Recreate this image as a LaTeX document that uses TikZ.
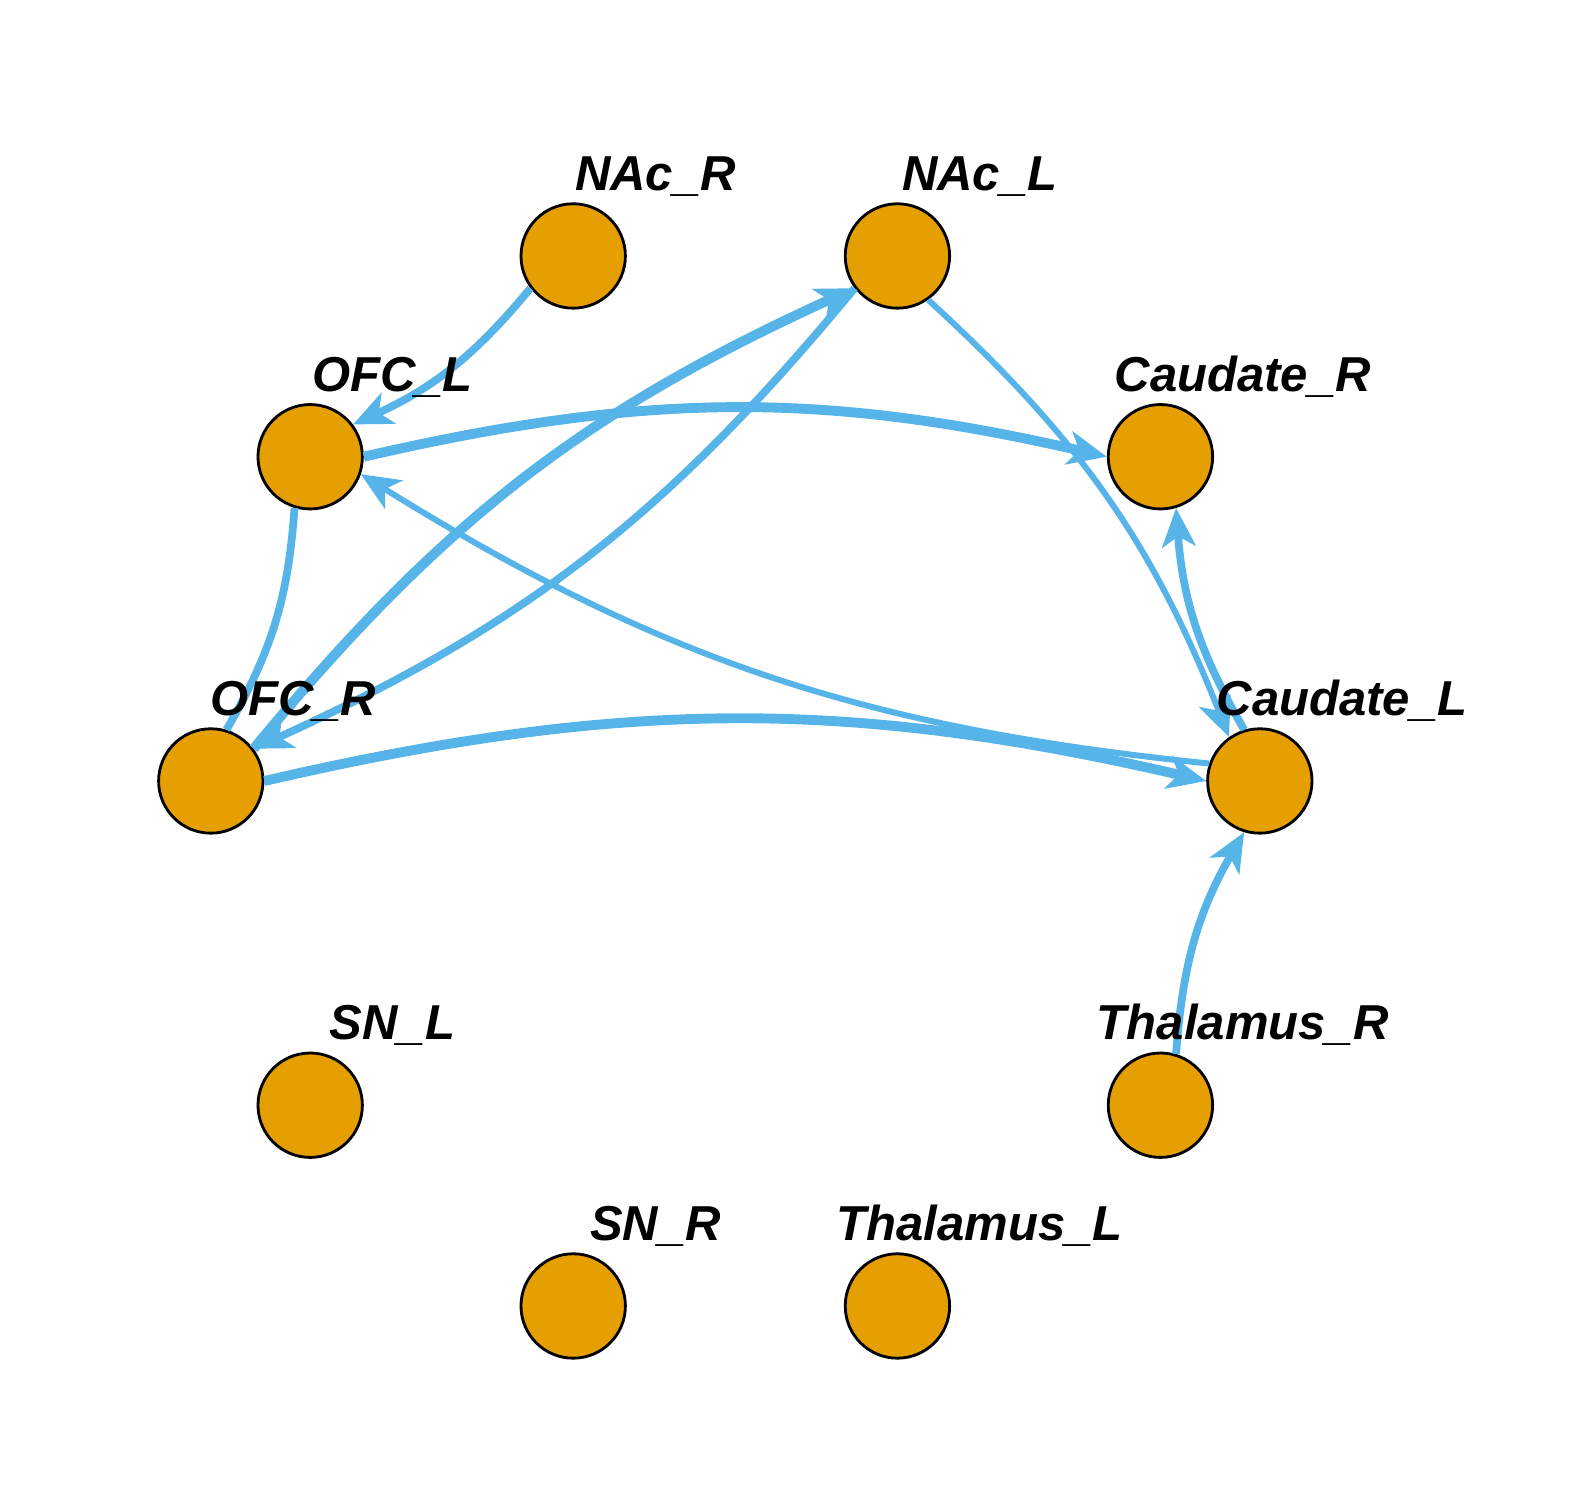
\documentclass[tikz,border=0pt]{standalone}
\usepackage{fontspec}
\setmainfont{Liberation Sans}
\usepackage{tikz}
\usetikzlibrary{arrows.meta}
\definecolor{roiorange}{HTML}{E69F00}
\definecolor{linkblue}{HTML}{56B4E9}

\begin{document}
\begin{tikzpicture}[
  >={Stealth[length=11pt,width=9.5pt,inset=3pt]},
  roi/.style={shape=circle, draw=black, line width=0.8pt, fill=roiorange, minimum size=1.04cm, inner sep=0pt},
  roiname/.style={anchor=base, inner sep=0pt, font=\fontsize{13.9}{16}\selectfont\bfseries\itshape},
  strongedge/.style={color=linkblue, line width=2.8pt},
  midedge/.style={color=linkblue, line width=2.2pt},
  weakedge/.style={color=linkblue, line width=1.7pt}
]
\useasboundingbox (0,0) rectangle (15.68,-14.79);
\node[roi] (NAcR) at (5.71,-2.55) {};
\node[roi] (NAcL) at (8.94,-2.55) {};
\node[roi] (OFCL) at (3.09,-4.55) {};
\node[roi] (CaudateR) at (11.56,-4.55) {};
\node[roi] (OFCR) at (2.10,-7.78) {};
\node[roi] (CaudateL) at (12.55,-7.78) {};
\node[roi] (SNL) at (3.09,-11.01) {};
\node[roi] (ThalamusR) at (11.56,-11.01) {};
\node[roi] (SNR) at (5.71,-13.01) {};
\node[roi] (ThalamusL) at (8.94,-13.01) {};
% links leave each circle on the line between the centres
\draw [midedge] (NAcR.217) edge[->, bend left=13] (OFCL.37);
\draw [strongedge] (OFCR.37) edge[->, bend left=13] (NAcL.217);
\draw [midedge] (NAcL.217) edge[->, bend left=13] (OFCR.37);
\draw [strongedge] (OFCL.0) edge[->, bend left=13] (CaudateR.180);
\draw [weakedge] (CaudateL.161) edge[->, bend left=13] (OFCL.-19);
\draw [weakedge] (NAcL.-55) edge[->, bend left=13] (CaudateL.125);
\draw [strongedge] (OFCR.0) edge[->, bend left=13] (CaudateL.180);
\draw [midedge] (CaudateL.107) edge[->, bend left=13] (CaudateR.-73);
\draw [midedge] (ThalamusR.73) edge[->, bend left=13] (CaudateL.-107);
\draw [midedge] (OFCL.253) edge[bend left=13] (OFCR.73);
\node[roiname] (NAcR-t) at (6.53,-1.90) {NAc\_R};
\node[roiname] (NAcL-t) at (9.76,-1.90) {NAc\_L};
\node[roiname] (OFCL-t) at (3.91,-3.90) {OFC\_L};
\node[roiname] (CaudateR-t) at (12.38,-3.90) {Caudate\_R};
\node[roiname] (OFCR-t) at (2.92,-7.13) {OFC\_R};
\node[roiname] (CaudateL-t) at (13.37,-7.13) {Caudate\_L};
\node[roiname] (SNL-t) at (3.91,-10.36) {SN\_L};
\node[roiname] (ThalamusR-t) at (12.38,-10.36) {Thalamus\_R};
\node[roiname] (SNR-t) at (6.53,-12.36) {SN\_R};
\node[roiname] (ThalamusL-t) at (9.76,-12.36) {Thalamus\_L};
\end{tikzpicture}
\end{document}
